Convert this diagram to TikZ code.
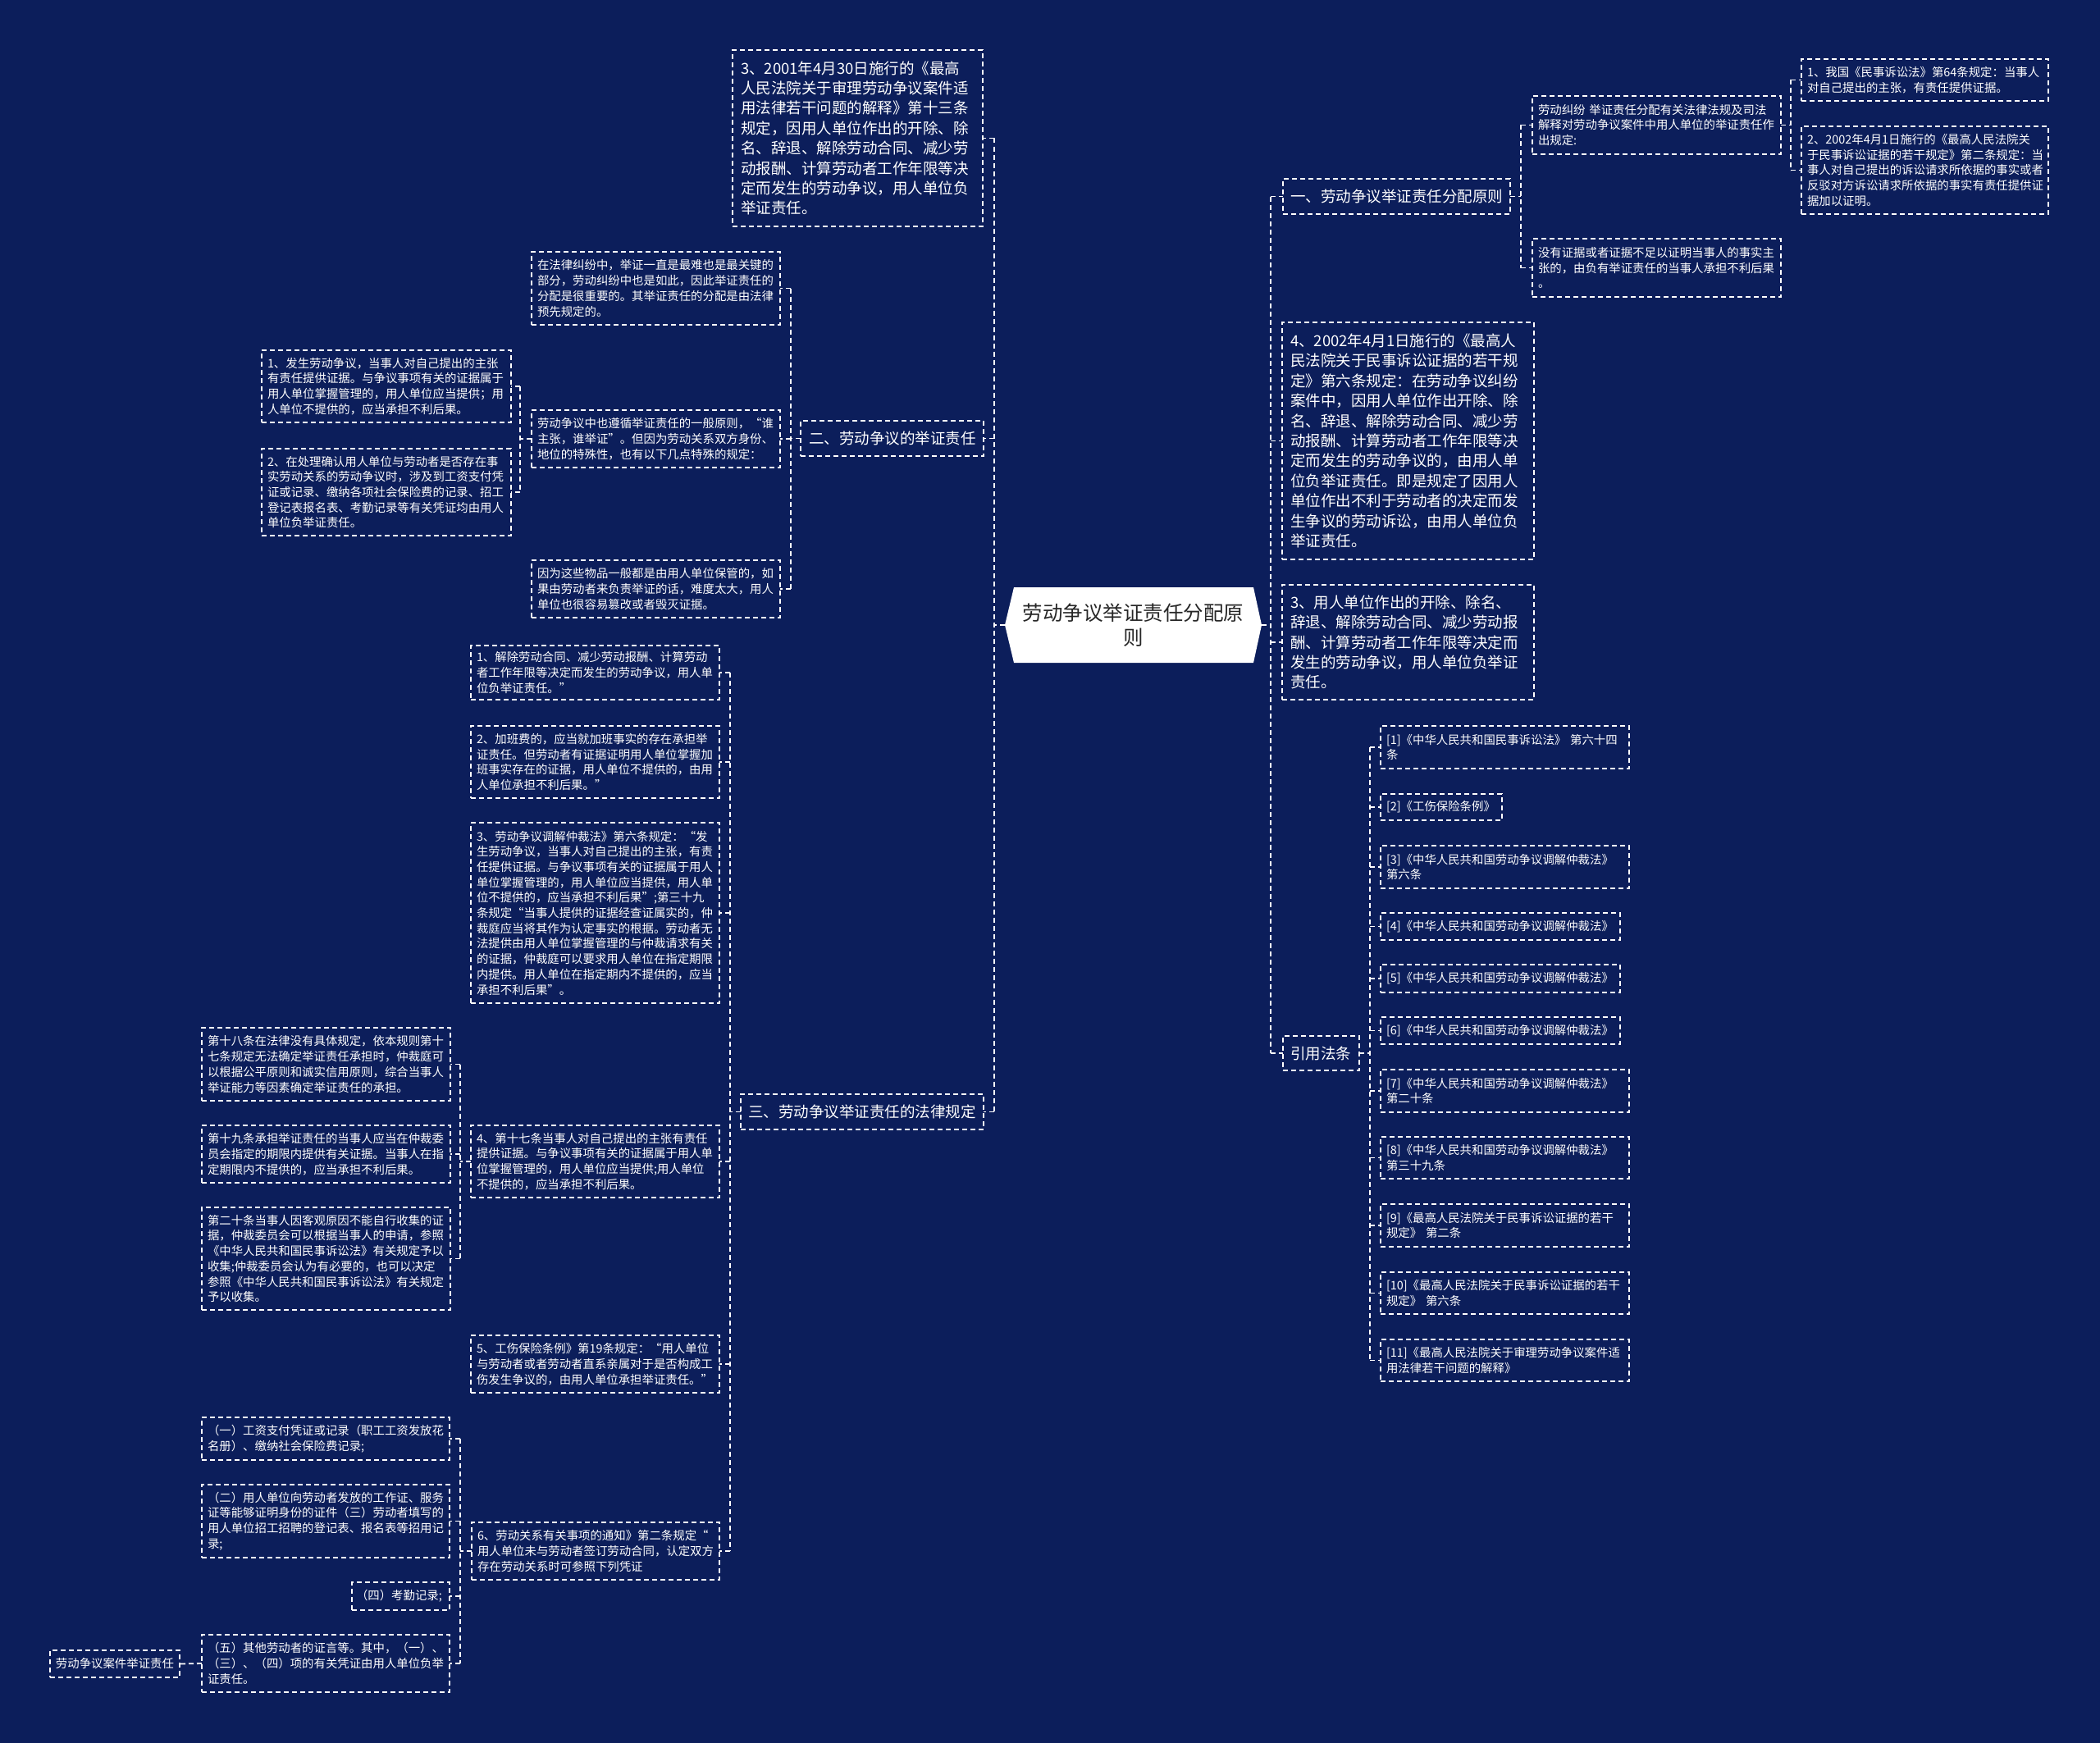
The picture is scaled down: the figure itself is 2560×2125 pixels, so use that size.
\documentclass[tikz,border=0pt]{standalone}
\usepackage{fontspec}
\setmainfont{Noto Sans CJK SC}
\setlength{\parindent}{0pt}
\definecolor{bg}{HTML}{0C1E5B}
\definecolor{ink}{HTML}{262626}
\newcommand\mmbox[8]{%
 \pgfmathsetmacro\mmw{(#4-#2)*0.5}%
 \pgfmathsetmacro\mmh{(#5-#3)*0.5}%
 \pgfmathsetmacro\mmt{(#4-#2-2*#7)*0.5}%
 \pgfmathsetmacro\mmp{#7*0.5}%
 \node[#6,minimum width=\mmw pt,minimum height=\mmh pt,text width=\mmt pt,inner xsep=\mmp pt] (#1) at ({(#2+#4)/2},{(#3+#5)/2}) {#8};}
\tikzset{
 bx/.style={draw=white, line width=0.9pt, dash pattern=on 3pt off 2pt, text=white, align=left, inner ysep=0pt, outer sep=0pt},
 lg/.style={bx, font=\fontsize{9.25}{12.2}\selectfont},
 sm/.style={bx, font=\fontsize{7.2}{9.35}\selectfont},
 conn/.style={draw=white, line width=0.9pt, dash pattern=on 3pt off 2pt},
}
\begin{document}
\begin{tikzpicture}[x=0.5pt,y=-0.5pt]
\fill[bg] (0,0) rectangle (2560,2125);
\useasboundingbox (0,0) rectangle (2560,2125);

% centre
\node[minimum width=156.5pt, minimum height=46pt, inner sep=0pt, outer sep=0pt] (c) at (1381.5,762) {};
\fill[white] (c.west) -- ([xshift=5.5pt]c.north west) -- ([xshift=-5pt]c.north east) -- (c.east) -- ([xshift=-5pt]c.south east) -- ([xshift=5.5pt]c.south west) -- cycle;
\node[text=ink, align=center, font=\fontsize{12.25}{15}\selectfont] (ct) at (c.center) {劳动争议举证责任分配原\\则};

% left side
\mmbox{Ntop}{893}{61}{1198}{276}{lg}{10}{3、2001年4月30日施行的《最高\\人民法院关于审理劳动争议案件适\\用法律若干问题的解释》第十三条\\规定，因用人单位作出的开除、除\\名、辞退、解除劳动合同、减少劳\\动报酬、计算劳动者工作年限等决\\定而发生的劳动争议，用人单位负\\举证责任。}
\mmbox{N2}{976}{513}{1199}{556}{lg}{10}{二、劳动争议的举证责任}
\mmbox{N3}{903}{1334}{1199}{1377}{lg}{9}{三、劳动争议举证责任的法律规定}

\mmbox{A1}{648}{307}{951}{396}{sm}{7}{在法律纠纷中，举证一直是最难也是最关键的\\部分，劳动纠纷中也是如此，因此举证责任的\\分配是很重要的。其举证责任的分配是由法律\\预先规定的。}
\mmbox{A2}{648}{500}{951}{570}{sm}{7}{劳动争议中也遵循举证责任的一般原则，“谁\\主张，谁举证”。但因为劳动关系双方身份、\\地位的特殊性，也有以下几点特殊的规定：}
\mmbox{A3}{648}{683}{951}{753}{sm}{7}{因为这些物品一般都是由用人单位保管的，如\\果由劳动者来负责举证的话，难度太大，用人\\单位也很容易篡改或者毁灭证据。}
\mmbox{B1}{319}{427}{623}{515}{sm}{7}{1、发生劳动争议，当事人对自己提出的主张\\有责任提供证据。与争议事项有关的证据属于\\用人单位掌握管理的，用人单位应当提供；用\\人单位不提供的，应当承担不利后果。}
\mmbox{B2}{319}{547}{623}{653}{sm}{7}{2、在处理确认用人单位与劳动者是否存在事\\实劳动关系的劳动争议时，涉及到工资支付凭\\证或记录、缴纳各项社会保险费的记录、招工\\登记表报名表、考勤记录等有关凭证均由用人\\单位负举证责任。}

\mmbox{C1}{574}{787}{877}{853}{sm}{7}{1、解除劳动合同、减少劳动报酬、计算劳动\\者工作年限等决定而发生的劳动争议，用人单\\位负举证责任。”}
\mmbox{C2}{574}{885}{877}{973}{sm}{7}{2、加班费的，应当就加班事实的存在承担举\\证责任。但劳动者有证据证明用人单位掌握加\\班事实存在的证据，用人单位不提供的，由用\\人单位承担不利后果。”}
\mmbox{C3}{574}{1003}{877}{1223}{sm}{7}{3、劳动争议调解仲裁法》第六条规定：“发\\生劳动争议，当事人对自己提出的主张，有责\\任提供证据。与争议事项有关的证据属于用人\\单位掌握管理的，用人单位应当提供，用人单\\位不提供的，应当承担不利后果”;第三十九\\条规定“当事人提供的证据经查证属实的，仲\\裁庭应当将其作为认定事实的根据。劳动者无\\法提供由用人单位掌握管理的与仲裁请求有关\\的证据，仲裁庭可以要求用人单位在指定期限\\内提供。用人单位在指定期内不提供的，应当\\承担不利后果”。}
\mmbox{C4}{574}{1372}{877}{1460}{sm}{7}{4、第十七条当事人对自己提出的主张有责任\\提供证据。与争议事项有关的证据属于用人单\\位掌握管理的，用人单位应当提供;用人单位\\不提供的，应当承担不利后果。}
\mmbox{C5}{574}{1628}{877}{1698}{sm}{7}{5、工伤保险条例》第19条规定：“用人单位\\与劳动者或者劳动者直系亲属对于是否构成工\\伤发生争议的，由用人单位承担举证责任。”}
\mmbox{C6}{575}{1856}{877}{1926}{sm}{7}{6、劳动关系有关事项的通知》第二条规定“\\用人单位未与劳动者签订劳动合同，认定双方\\存在劳动关系时可参照下列凭证}

\mmbox{D1}{246}{1253}{549}{1342}{sm}{7}{第十八条在法律没有具体规定，依本规则第十\\七条规定无法确定举证责任承担时，仲裁庭可\\以根据公平原则和诚实信用原则，综合当事人\\举证能力等因素确定举证责任的承担。}
\mmbox{D2}{246}{1372}{549}{1442}{sm}{7}{第十九条承担举证责任的当事人应当在仲裁委\\员会指定的期限内提供有关证据。当事人在指\\定期限内不提供的，应当承担不利后果。}
\mmbox{D3}{246}{1472}{549}{1597}{sm}{7}{第二十条当事人因客观原因不能自行收集的证\\据，仲裁委员会可以根据当事人的申请，参照\\《中华人民共和国民事诉讼法》有关规定予以\\收集;仲裁委员会认为有必要的，也可以决定\\参照《中华人民共和国民事诉讼法》有关规定\\予以收集。}

\mmbox{E1}{246}{1728}{548}{1780}{sm}{7}{（一）工资支付凭证或记录（职工工资发放花\\名册）、缴纳社会保险费记录;}
\mmbox{E2}{246}{1810}{548}{1899}{sm}{7}{（二）用人单位向劳动者发放的工作证、服务\\证等能够证明身份的证件（三）劳动者填写的\\用人单位招工招聘的登记表、报名表等招用记\\录;}
\mmbox{E3}{429}{1929}{548}{1963}{sm}{5}{（四）考勤记录;}
\mmbox{E4}{246}{1993}{548}{2063}{sm}{7}{（五）其他劳动者的证言等。其中，（一）、\\（三）、（四）项的有关凭证由用人单位负举\\证责任。}
\mmbox{F}{61}{2012}{219}{2045}{sm}{7}{劳动争议案件举证责任}

% right side
\mmbox{R1}{1564}{218}{1841}{261}{lg}{9}{一、劳动争议举证责任分配原则}
\mmbox{R2}{1563}{393}{1870}{682}{lg}{10}{4、2002年4月1日施行的《最高人\\民法院关于民事诉讼证据的若干规\\定》第六条规定：在劳动争议纠纷\\案件中，因用人单位作出开除、除\\名、辞退、解除劳动合同、减少劳\\动报酬、计算劳动者工作年限等决\\定而发生的劳动争议的，由用人单\\位负举证责任。即是规定了因用人\\单位作出不利于劳动者的决定而发\\生争议的劳动诉讼，由用人单位负\\举证责任。}
\mmbox{R3}{1563}{713}{1870}{853}{lg}{10}{3、用人单位作出的开除、除名、\\辞退、解除劳动合同、减少劳动报\\酬、计算劳动者工作年限等决定而\\发生的劳动争议，用人单位负举证\\责任。}
\mmbox{R4}{1564}{1263}{1657}{1305}{lg}{9}{引用法条}

\mmbox{G1}{1868}{117}{2171}{188}{sm}{7}{劳动纠纷~举证责任分配有关法律法规及司法\\解释对劳动争议案件中用人单位的举证责任作\\出规定:}
\mmbox{G2}{1868}{291}{2171}{362}{sm}{7}{没有证据或者证据不足以证明当事人的事实主\\张的，由负有举证责任的当事人承担不利后果\\。}
\mmbox{H1}{2196}{72}{2497}{123}{sm}{7}{1、我国《民事诉讼法》第64条规定：当事人\\对自己提出的主张，有责任提供证据。}
\mmbox{H2}{2196}{154}{2497}{261}{sm}{7}{2、2002年4月1日施行的《最高人民法院关\\于民事诉讼证据的若干规定》第二条规定：当\\事人对自己提出的诉讼请求所依据的事实或者\\反驳对方诉讼请求所依据的事实有责任提供证\\据加以证明。}

\mmbox{Ra}{1683}{885}{1986}{937}{sm}{7}{[1]《中华人民共和国民事诉讼法》~第六十四\\条}
\mmbox{Rb}{1683}{968}{1831}{1000}{sm}{7}{[2]《工伤保险条例》}
\mmbox{Rc}{1683}{1031}{1986}{1083}{sm}{7}{[3]《中华人民共和国劳动争议调解仲裁法》\\第六条}
\mmbox{Rd}{1683}{1113}{1975}{1146}{sm}{7}{[4]《中华人民共和国劳动争议调解仲裁法》}
\mmbox{Re}{1683}{1176}{1975}{1210}{sm}{7}{[5]《中华人民共和国劳动争议调解仲裁法》}
\mmbox{Rf}{1683}{1240}{1975}{1273}{sm}{7}{[6]《中华人民共和国劳动争议调解仲裁法》}
\mmbox{Rg}{1683}{1304}{1986}{1356}{sm}{7}{[7]《中华人民共和国劳动争议调解仲裁法》\\第二十条}
\mmbox{Rh}{1683}{1386}{1986}{1437}{sm}{7}{[8]《中华人民共和国劳动争议调解仲裁法》\\第三十九条}
\mmbox{Ri}{1683}{1468}{1986}{1520}{sm}{7}{[9]《最高人民法院关于民事诉讼证据的若干\\规定》~第二条}
\mmbox{Rj}{1683}{1551}{1986}{1602}{sm}{7}{[10]《最高人民法院关于民事诉讼证据的若干\\规定》~第六条}
\mmbox{Rk}{1683}{1633}{1986}{1684}{sm}{7}{[11]《最高人民法院关于审理劳动争议案件适\\用法律若干问题的解释》}

% trunk coordinates
\coordinate (tL) at (1212,0);
\coordinate (tR) at (1549,0);
\coordinate (tA) at (964,0);
\coordinate (tB) at (634,0);
\coordinate (tC) at (890,0);
\coordinate (tD) at (561,0);
\coordinate (tE) at (561,0);
\coordinate (tG) at (1854,0);
\coordinate (tH) at (2183,0);
\coordinate (tQ) at (1670,0);

% left groups
\draw[conn] (c.west) -- (tL |- c.west);
\draw[conn] (tL |- Ntop.east) -- (tL |- N3.east);
\foreach \k in {Ntop,N2,N3} \draw[conn] (tL |- \k.east) -- (\k.east);

\draw[conn] (N2.west) -- (tA |- N2.west);
\draw[conn] (tA |- A1.east) -- (tA |- A3.east);
\foreach \k in {A1,A2,A3} \draw[conn] (tA |- \k.east) -- (\k.east);

\draw[conn] (A2.west) -- (tB |- A2.west);
\draw[conn] (tB |- B1.east) -- (tB |- B2.east);
\foreach \k in {B1,B2} \draw[conn] (tB |- \k.east) -- (\k.east);

\draw[conn] (N3.west) -- (tC |- N3.west);
\draw[conn] (tC |- C1.east) -- (tC |- C6.east);
\foreach \k in {C1,C2,C3,C4,C5,C6} \draw[conn] (tC |- \k.east) -- (\k.east);

\draw[conn] (C4.west) -- (tD |- C4.west);
\draw[conn] (tD |- D1.east) -- (tD |- D3.east);
\foreach \k in {D1,D2,D3} \draw[conn] (tD |- \k.east) -- (\k.east);

\draw[conn] (C6.west) -- (tE |- C6.west);
\draw[conn] (tE |- E1.east) -- (tE |- E4.east);
\foreach \k in {E1,E2,E3,E4} \draw[conn] (tE |- \k.east) -- (\k.east);

\draw[conn] (E4.west) -- (F.east);

% right groups
\draw[conn] (c.east) -- (tR |- c.east);
\draw[conn] (tR |- R1.west) -- (tR |- R4.west);
\foreach \k in {R1,R2,R3,R4} \draw[conn] (tR |- \k.west) -- (\k.west);

\draw[conn] (R1.east) -- (tG |- R1.east);
\draw[conn] (tG |- G1.west) -- (tG |- G2.west);
\foreach \k in {G1,G2} \draw[conn] (tG |- \k.west) -- (\k.west);

\draw[conn] (G1.east) -- (tH |- G1.east);
\draw[conn] (tH |- H1.west) -- (tH |- H2.west);
\foreach \k in {H1,H2} \draw[conn] (tH |- \k.west) -- (\k.west);

\draw[conn] (R4.east) -- (tQ |- R4.east);
\draw[conn] (tQ |- Ra.west) -- (tQ |- Rk.west);
\foreach \k in {Ra,Rb,Rc,Rd,Re,Rf,Rg,Rh,Ri,Rj,Rk} \draw[conn] (tQ |- \k.west) -- (\k.west);
\end{tikzpicture}
\end{document}
